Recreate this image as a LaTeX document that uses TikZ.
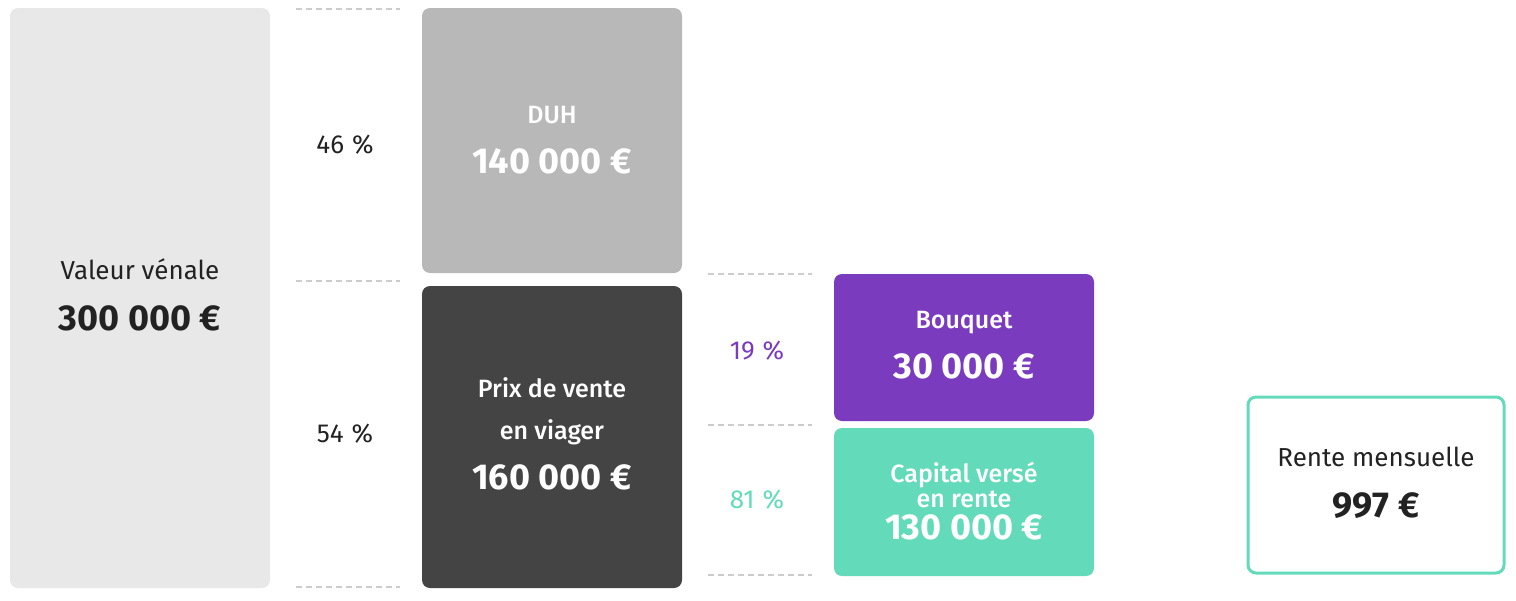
\documentclass[tikz,border=0pt]{standalone}
\usepackage{fontspec}
\setmainfont{Fira Sans}
\newfontfamily\medfont{Fira Sans Medium}
\definecolor{vlight}{HTML}{E8E8E8}
\definecolor{vmid}{HTML}{B8B8B8}
\definecolor{vdark}{HTML}{444444}
\definecolor{vpurple}{HTML}{7B3BBE}
\definecolor{vteal}{HTML}{63DBBA}
\definecolor{vtext}{HTML}{222222}
\definecolor{vdash}{HTML}{CCCCCC}
\newcommand{\pctsp}{\hspace{8pt}}
\tikzset{
  box/.style={rounded corners=8pt, inner sep=0pt},
  lbl/.style={font=\fontsize{26}{28}\selectfont, inner sep=0pt, anchor=base},
  wlbl/.style={font=\medfont\fontsize{25}{27}\selectfont, inner sep=0pt, anchor=base, text=white},
  val/.style={font=\fontsize{36}{38}\selectfont\bfseries, inner sep=0pt, anchor=base},
  pct/.style={font=\fontsize{26}{28}\selectfont, inner sep=0pt, anchor=base},
  sep/.style={draw=vdash, line width=1.2pt, dash pattern=on 6pt off 4pt},
}
\begin{document}
\begin{tikzpicture}[x=1pt,y=-1pt]
\useasboundingbox (0,0) rectangle (1516,600);
% boxes
\fill[vlight, box] (10,8) rectangle (270,588);
\fill[vmid, box] (422,8) rectangle (682,273);
\fill[vdark, box] (422,286) rectangle (682,588);
\fill[vpurple, box] (834,274) rectangle (1094,421);
\fill[vteal, box] (834,428) rectangle (1094,576);
\draw[vteal, line width=3pt, box, fill=white] (1248,397) rectangle (1504,573);
% dashed separators
\coordinate (a1) at (296,9); \coordinate (a2) at (400,9);
\coordinate (b1) at (296,281); \coordinate (b2) at (400,281);
\coordinate (c1) at (296,587); \coordinate (c2) at (400,587);
\coordinate (d1) at (708,274); \coordinate (d2) at (812,274);
\coordinate (e1) at (708,425); \coordinate (e2) at (812,425);
\coordinate (f1) at (708,575); \coordinate (f2) at (812,575);
\draw[sep] (a1) -- (a2);
\draw[sep] (b1) -- (b2);
\draw[sep] (c1) -- (c2);
\draw[sep] (d1) -- (d2);
\draw[sep] (e1) -- (e2);
\draw[sep] (f1) -- (f2);
% texts
\node[lbl, text=vtext] (vvl) at (140,279) {Valeur vénale};
\node[val, text=vtext] (vvv) at (140,330) {300 000 €};
\node[pct, text=vtext] (p46) at (345,153) {46\pctsp\%};
\node[pct, text=vtext] (p54) at (345,442) {54\pctsp\%};
\node[wlbl] (duhl) at (552,123) {DUH};
\node[val, text=white] (duhv) at (552,173) {140 000 €};
\node[wlbl] (prl1) at (552,397) {Prix de vente};
\node[wlbl] (prl2) at (552,439) {en viager};
\node[val, text=white] (prv) at (552,489) {160 000 €};
\node[pct, text=vpurple] (p19) at (757,359) {19\pctsp\%};
\node[pct, text=vteal] (p81) at (757,508) {81\pctsp\%};
\node[wlbl] (bql) at (964,328) {Bouquet};
\node[val, text=white] (bqv) at (964,378) {30 000 €};
\node[wlbl] (cpl1) at (964,482) {Capital versé};
\node[wlbl] (cpl2) at (964,507) {en rente};
\node[val, text=white] (cpv) at (964,539) {130 000 €};
\node[lbl, text=vtext] (rml) at (1376,466) {Rente mensuelle};
\node[val, text=vtext] (rmv) at (1376,517) {997 €};
\end{tikzpicture}
\end{document}
